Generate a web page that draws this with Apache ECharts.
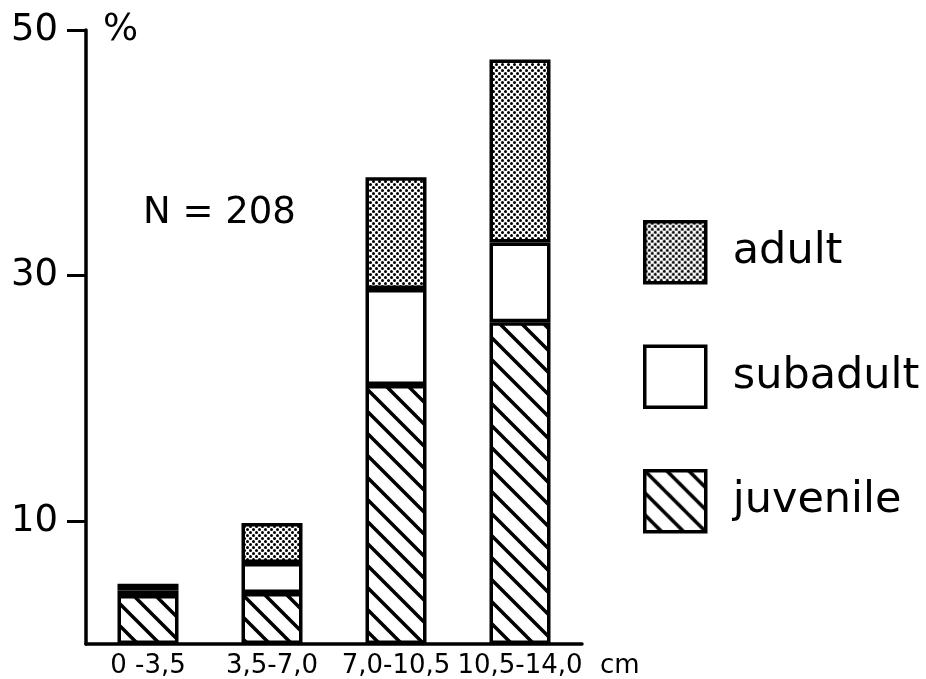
<!DOCTYPE html>
<html>
<head>
<meta charset="utf-8">
<script src="https://cdn.jsdelivr.net/npm/echarts@6/dist/echarts.min.js"></script>
<style>html,body{margin:0;padding:0;background:#fff}#c{width:926px;height:679px}</style>
</head>
<body>
<div id="c"></div>
<script>
const categories = ['0 -3,5', '3,5-7,0', '7,0-10,5', '10,5-14,0'];
const juvenile = [4.0, 4.15, 21.1, 26.2];
const subadult = [0.35, 2.45, 7.8, 6.5];
const adult = [0.55, 3.25, 9.1, 14.9];
const yTicks = [10, 30, 50];
const legendOrder = ['adult', 'subadult', 'juvenile'];

const FONT = 'DejaVu Sans';

function hatchCanvas() {
  const s = 22, c = document.createElement('canvas');
  c.width = s; c.height = s;
  const g = c.getContext('2d');
  g.fillStyle = '#fff'; g.fillRect(0, 0, s, s);
  g.strokeStyle = '#000'; g.lineWidth = 3.5;
  for (const o of [-s, 0, s]) {
    g.beginPath(); g.moveTo(o - 3, -3); g.lineTo(o + s + 3, s + 3); g.stroke();
  }
  return c;
}
function dotCanvas() {
  const s = 6, c = document.createElement('canvas');
  c.width = s; c.height = s;
  const g = c.getContext('2d');
  g.fillStyle = '#fff'; g.fillRect(0, 0, s, s);
  g.fillStyle = '#000';
  for (const p of [[1.5, 1.5], [4.5, 4.5]]) {
    g.beginPath(); g.arc(p[0], p[1], 1.5, 0, Math.PI * 2); g.fill();
  }
  return c;
}
const hatch = { image: hatchCanvas(), repeat: 'repeat' };
const dots = { image: dotCanvas(), repeat: 'repeat' };

function barSeries(name, data, fill) {
  return {
    name, type: 'bar', stack: 'total', data, barWidth: 61,
    itemStyle: { color: fill, borderColor: '#000', borderWidth: 3.5 },
    emphasis: { disabled: true }
  };
}

const chart = echarts.init(document.getElementById('c'), null, { renderer: 'canvas' });
chart.setOption({
  animation: false,
  backgroundColor: '#fff',
  title: {
    text: 'N = 208', left: 138, top: 190,
    textStyle: { fontFamily: FONT, fontSize: 37, fontWeight: 'normal', color: '#000' }
  },
  legend: {
    data: legendOrder, orient: 'vertical', left: 638, top: 215,
    itemWidth: 61, itemHeight: 61, itemGap: 60, icon: 'rect', selectedMode: false,
    itemStyle: { borderColor: '#000', borderWidth: 3.5 },
    textStyle: { fontFamily: FONT, fontSize: 43, color: '#000', padding: [0, 0, 0, 22] }
  },
  grid: { left: 86, top: 30, right: 344, bottom: 35, containLabel: false },
  xAxis: {
    type: 'category', data: categories,
    axisLine: { lineStyle: { color: '#000', width: 3.5 } },
    axisTick: { show: false },
    axisLabel: { interval: 0, fontFamily: FONT, fontSize: 26, color: '#000', margin: 9 },
    name: 'cm', nameLocation: 'end', nameGap: 18,
    nameTextStyle: { fontFamily: FONT, fontSize: 26, color: '#000', align: 'left', verticalAlign: 'top', padding: [9, 0, 0, 0] }
  },
  yAxis: {
    type: 'value', min: 0, max: 50,
    axisLine: { show: true, lineStyle: { color: '#000', width: 3.5 } },
    axisTick: { show: true, customValues: yTicks, length: 19, lineStyle: { color: '#000', width: 3 } },
    axisLabel: { customValues: yTicks, fontFamily: FONT, fontSize: 37, color: '#000', margin: 28 },
    splitLine: { show: false },
    name: '%', nameLocation: 'end', nameGap: 0,
    nameTextStyle: { fontFamily: FONT, fontSize: 37, color: '#000', align: 'left', verticalAlign: 'middle', padding: [0, 0, 0, 17] }
  },
  series: [
    barSeries('juvenile', juvenile, hatch),
    barSeries('subadult', subadult, '#fff'),
    barSeries('adult', adult, dots)
  ]
});
</script>
</body>
</html>
